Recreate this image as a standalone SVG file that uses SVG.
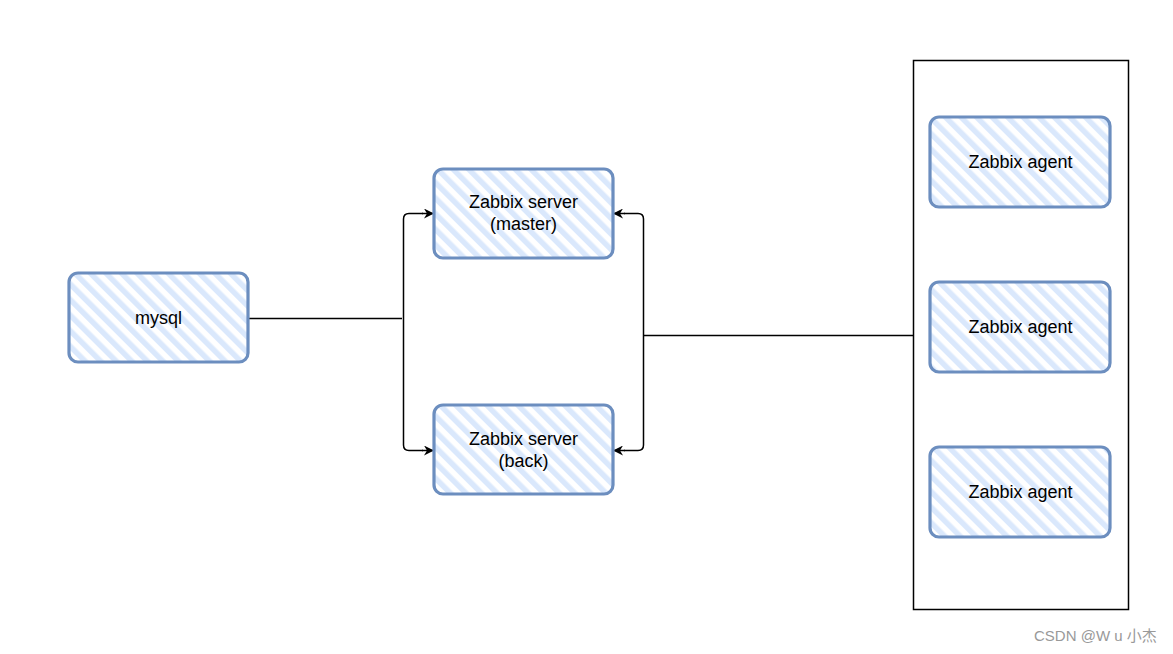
<svg xmlns="http://www.w3.org/2000/svg" width="1173" height="654" viewBox="0 0 1173 654">
<defs>
<pattern id="hatch" patternUnits="userSpaceOnUse" width="11" height="11" patternTransform="rotate(-45)">
<rect width="11" height="11" fill="#ffffff"/>
<rect width="5.5" height="11" fill="#dae8fc"/>
</pattern>
<marker id="arr" viewBox="0 0 10 10" refX="9" refY="5" markerWidth="10" markerHeight="10" markerUnits="userSpaceOnUse" orient="auto">
<path d="M0,0 L10,5 L0,10 L3,5 Z" fill="#000"/>
</marker>
<style>
.box{fill:url(#hatch);stroke:#6c8ebf;stroke-width:3.2;}
.lbl{font-family:"Liberation Sans",Arial,sans-serif;font-size:18px;fill:#000;text-anchor:middle;}
.edge{fill:none;stroke:#000;stroke-width:1.5;}
.wm{font-family:"Liberation Sans","Noto Sans CJK SC",sans-serif;font-size:15px;fill:#999;}
</style>
</defs>
<rect width="1173" height="654" fill="#fff"/>
<g id="container">
<rect x="913.5" y="60.5" width="215" height="549" fill="#fff" stroke="#000" stroke-width="1.5"/>
</g>
<g id="connectors">
<path class="edge" d="M248,318.5 L402,318.5"/>
<path class="edge" d="M423,213.5 L409,213.5 Q403.5,213.5 403.5,219 L403.5,445 Q403.5,450.5 409,450.5 L423,450.5"/>
<path class="edge" d="M422,213.5 L433,213.5" marker-end="url(#arr)"/>
<path class="edge" d="M422,450.5 L433,450.5" marker-end="url(#arr)"/>
<path class="edge" d="M624,213.5 L638,213.5 Q643.5,213.5 643.5,219 L643.5,445 Q643.5,450.5 638,450.5 L624,450.5"/>
<path class="edge" d="M625,213.5 L614,213.5" marker-end="url(#arr)"/>
<path class="edge" d="M625,450.5 L614,450.5" marker-end="url(#arr)"/>
<path class="edge" d="M643.5,335.5 L913,335.5"/>
</g>
<g id="mysql">
<rect class="box" x="69" y="273" width="179" height="89" rx="9"/>
<text class="lbl" x="158.5" y="324">mysql</text>
</g>
<g id="server-master">
<rect class="box" x="434" y="169" width="179" height="89" rx="9"/>
<text class="lbl" x="523.5" y="208">Zabbix server</text>
<text class="lbl" x="523.5" y="230">(master)</text>
</g>
<g id="server-back">
<rect class="box" x="434" y="405" width="179" height="89" rx="9"/>
<text class="lbl" x="523.5" y="445">Zabbix server</text>
<text class="lbl" x="523.5" y="467">(back)</text>
</g>
<g id="agent1">
<rect class="box" x="930" y="117" width="180" height="90" rx="9"/>
<text class="lbl" x="1020.5" y="168">Zabbix agent</text>
</g>
<g id="agent2">
<rect class="box" x="930" y="282" width="180" height="90" rx="9"/>
<text class="lbl" x="1020.5" y="333">Zabbix agent</text>
</g>
<g id="agent3">
<rect class="box" x="930" y="447" width="180" height="90" rx="9"/>
<text class="lbl" x="1020.5" y="498">Zabbix agent</text>
</g>
<text class="wm" x="1034" y="641">CSDN @W u 小杰</text>
</svg>
